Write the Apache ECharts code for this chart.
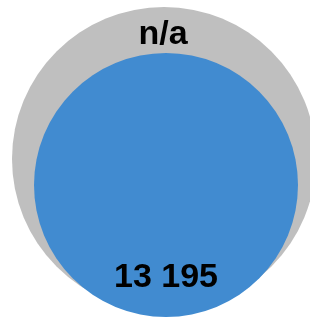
<!DOCTYPE html>
<html>
<head>
<meta charset="utf-8">
<script src="https://cdn.jsdelivr.net/npm/echarts@6/dist/echarts.min.js"></script>
<style>
  html, body { margin: 0; padding: 0; background: #fff; }
  #chart { width: 310px; height: 320px; }
</style>
</head>
<body>
<div id="chart"></div>
<script>
// 两个圆：外圈为总量（未知，n/a），内圈为数值
const names = ['total', 'value'];
const labels = ['n/a', '13 195'];
const values = [17500, 13195];   // 外圈面积按估计值
const centersX = [164, 166];
const centersY = [161, 135];

const outerSize = 304;
const chart = echarts.init(document.getElementById('chart'));

const series = names.map((name, i) => {
  return {
    name: name,
    type: 'scatter',
    symbol: 'circle',
    symbolSize: Math.sqrt(values[i] / values[0]) * outerSize,
    itemStyle: { color: i === 0 ? '#bfbfbf' : '#418bd0', opacity: 1 },
    label: {
      show: true,
      formatter: labels[i],
      position: 'inside',
      offset: i === 0 ? [-1, -124] : [0, 93],
      fontFamily: 'Liberation Sans, Arial, sans-serif',
      fontWeight: 'bold',
      fontSize: 34,
      color: '#000'
    },
    silent: true,
    animation: false,
    z: i + 1,
    data: [[centersX[i], centersY[i]]]
  };
});

chart.setOption({
  animation: false,
  grid: { left: 0, right: 0, top: 0, bottom: 0 },
  xAxis: { type: 'value', min: 0, max: 310, show: false },
  yAxis: { type: 'value', min: 0, max: 320, show: false },
  series: series
});
</script>
</body>
</html>
